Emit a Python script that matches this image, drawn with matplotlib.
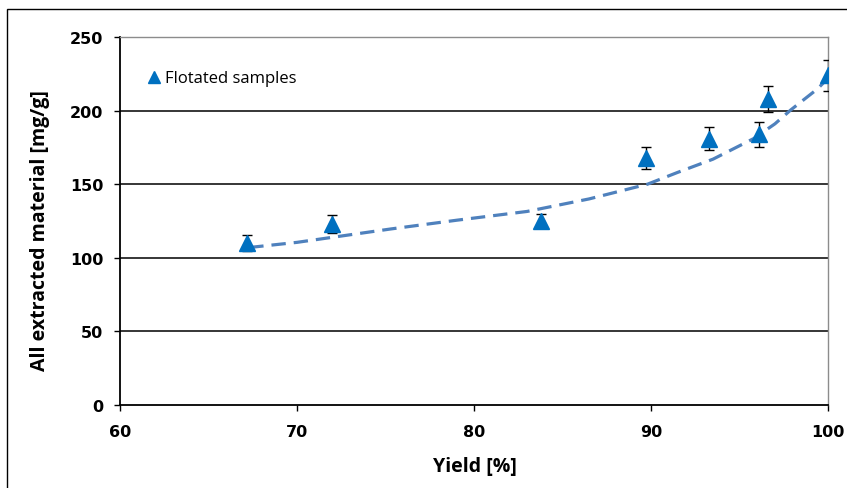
import matplotlib.pyplot as plt
from matplotlib.patches import Rectangle

# flotated samples: yield [%], extracted material [mg/g], error
yield_pct = [67.2, 72.0, 83.8, 89.7, 93.3, 96.1, 96.6, 100.0]
extracted = [110, 123, 125, 168, 181, 184, 208, 224]
err = [5.5, 6, 5, 7.5, 8, 8.5, 9, 10.5]

# trend line
trend_x = [67.3, 70.0, 75.3, 79.0, 83.0, 86.5, 89.8, 91.5, 93.5, 95.8, 97.0, 97.9, 99.4, 100.0]
trend_y = [107, 110.5, 119.6, 125.5, 131.5, 140, 150, 158, 167, 181, 191, 200.5, 214.7, 222]

tick_font = dict(family=['Liberation Sans Narrow', 'DejaVu Sans'], weight='bold', size=11.5)
label_font = dict(family=['Open Sans', 'DejaVu Sans'], weight='bold', size=14)

fig = plt.figure(figsize=(8.47, 4.89), dpi=100)
ax = fig.add_axes([0.1417, 0.1697, 0.8359, 0.7526])

# outer frame of the chart area
fig.patches.append(Rectangle((0.0077, -0.1), 1.2, 0.9796 + 0.1, transform=fig.transFigure,
                             fill=False, edgecolor='black', linewidth=1.0))

for v in [50, 100, 150, 200]:
    ax.axhline(v, color='black', linewidth=1.1, zorder=1)

ax.plot(trend_x, trend_y, color='#4F81BD', linewidth=2.3, dashes=(4.5, 2.5), zorder=2)
ax.errorbar(yield_pct, extracted, yerr=err, fmt='none', ecolor='black',
            elinewidth=1.0, capsize=3.5, capthick=1.0, zorder=3)
ax.plot(yield_pct, extracted, linestyle='none', marker='^', markersize=11,
        color='#0070C0', zorder=4, label='Flotated samples')

ax.set_xlim(60, 100)
ax.set_ylim(0, 250)
ax.set_xticks([60, 70, 80, 90, 100])
ax.set_yticks([0, 50, 100, 150, 200, 250])
ax.set_xticklabels([str(t) for t in [60, 70, 80, 90, 100]], fontdict=tick_font)
ax.set_yticklabels([str(t) for t in [0, 50, 100, 150, 200, 250]], fontdict=tick_font)
ax.tick_params(axis='both', direction='out', length=4, width=1.0, colors='black')
ax.tick_params(axis='x', pad=10)
ax.tick_params(axis='y', pad=8)

ax.spines['left'].set_linewidth(1.3)
ax.spines['bottom'].set_linewidth(1.3)
for s in ['top', 'right']:
    ax.spines[s].set_color('#8c8c8c')
    ax.spines[s].set_linewidth(1.0)

ax.set_xlabel('Yield [%]', fontdict=label_font)
ax.set_ylabel('All extracted material [mg/g]', fontdict=label_font)
ax.xaxis.set_label_coords(0.501, -0.166, transform=ax.transAxes)
ax.xaxis.label.set_va('center')
ax.yaxis.set_label_coords(-0.113, 0.478, transform=ax.transAxes)
ax.yaxis.label.set_va('center')

leg = ax.legend(loc='upper left', bbox_to_anchor=(0.02, 0.95), frameon=False,
                handlelength=0.6, handletextpad=0.35, markerscale=0.8,
                prop=dict(family=['Open Sans', 'DejaVu Sans'], size=12))

fig.savefig('out.png', dpi=100)
